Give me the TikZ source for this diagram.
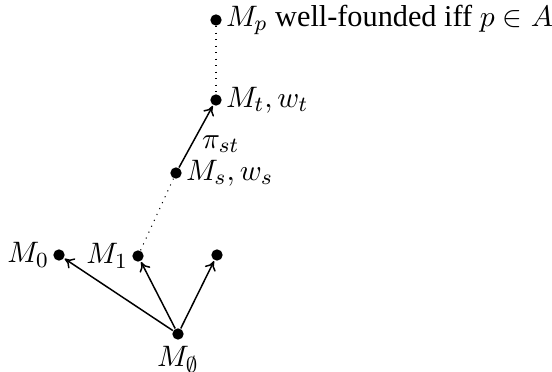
\documentclass[tikz,border=0pt]{standalone}
\usepackage{fontspec}
\setmainfont{Liberation Serif}
\usetikzlibrary{arrows.meta, positioning}
\tikzset{
  modeldot/.style={
    circle, fill=black, draw=none,
    inner sep=0pt, minimum size=4.2pt},
  modellabel/.style={
    inner sep=1.2pt, font=\fontsize{11.2}{13}\selectfont},
  arrow/.style={-{To[length=3.4pt,width=4.4pt]}, line width=0.55pt,
                shorten >=0.2pt},
  dotline/.style={dotted, line width=0.4pt}
}

\begin{document}
\begin{tikzpicture}[x=0.37pt, y=-0.37pt, label distance=0pt]

  \useasboundingbox (0,0) rectangle (552,372);

  %% top: the limit model
  \node[modeldot, label={[modellabel]right:$M_p$ well-founded iff $p\in A$}]
    (mp) at (216,20) {};

  %% chain of models
  \node[modeldot, label={[modellabel]right:$M_t, w_t$}]
    (mt) at (216,100) {};
  \node[modeldot, label={[modellabel]right:$M_s, w_s$}]
    (ms) at (176,173) {};

  %% first level
  \node[modeldot, label={[modellabel]left:$M_0$}]
    (m0) at (59,255) {};
  \node[modeldot, label={[modellabel]left:$M_1$}]
    (m1) at (138,256) {};
  \node[modeldot] (mx) at (217,255) {};

  %% root
  \node[modeldot, label={[modellabel, inner sep=2pt]below:$M_\emptyset$}]
    (mroot) at (178,334) {};

  %% connectors
  \draw[dotline] (mp) -- (mt);
  \draw[arrow] (ms) -- node[modellabel, pos=0.38, right=2.5pt, inner sep=1pt] {$\pi_{st}$} (mt);
  \draw[dotline] (m1) -- (ms);
  \draw[arrow] (mroot) -- (m0);
  \draw[arrow] (mroot) -- (m1);
  \draw[arrow] (mroot) -- (mx);

\end{tikzpicture}
\end{document}
